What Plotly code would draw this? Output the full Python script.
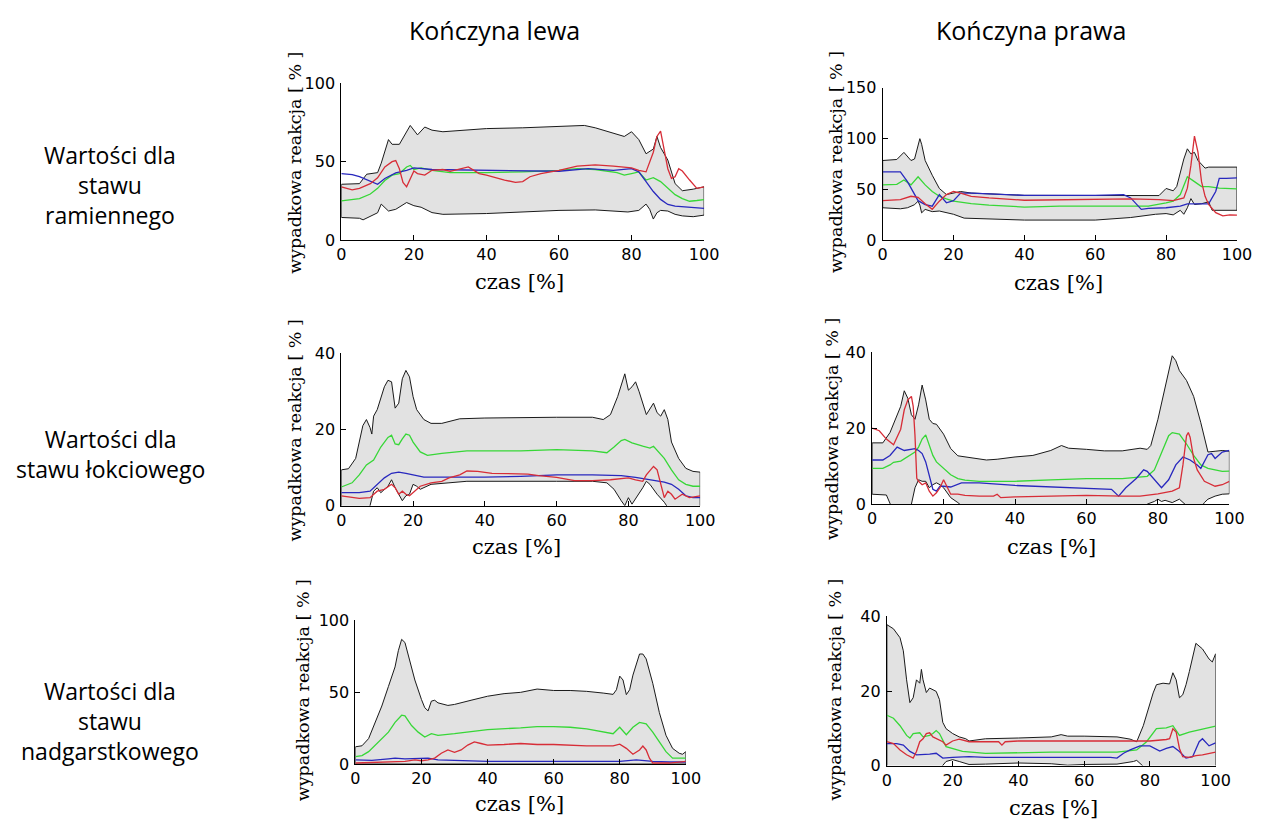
import plotly.graph_objects as go

# ---------------- DATA ----------------
col_titles = ["Kończyna lewa", "Kończyna prawa"]
row_titles = ["Wartości dla<br>stawu<br>ramiennego",
              "Wartości dla<br>stawu łokciowego",
              "Wartości dla<br>stawu<br>nadgarstkowego"]
x_ticks = [0, 20, 40, 60, 80, 100]
x_title = "czas [%]"
y_title = "wypadkowa reakcja [ % ]"

# --- shoulder, left ---
tl_up_x = [0,5,7,10,11,13,14,16,19,21,23,25,28,35,40,50,60,67,70,75,78,80,82,84,86,87,88,90,92,94,97,100]
tl_up = [35.6,36,42,43,49,64,61,61,73,67,72,70,69,70,71,71.5,72.5,73,71.5,68,66,69,64,55,58,66,59,51,36,31.5,32.5,34]
tl_lo_x = [0,5,6,8,10,11,13,15,18,20,22,25,28,40,60,70,79,82,84,85,86,87,88,90,92,94,97,100]
tl_lo = [14.5,14,13,15.5,17.5,23,18.6,19.7,24,22,21,17.6,16.5,17,19,19.3,18,19,23,19.7,13.5,17.5,19,18.6,16.5,15.5,15,16]
tl_green_x = [0,5,8,10,12,14,16,18,19,20,22,25,30,40,50,60,65,70,76,78,80,82,84,86,88,90,92,94,96,98,100]
tl_green = [25,26.5,29.4,33,38,41.4,42.4,46.6,47.6,45,46,44.5,43,43,43.5,44.5,45.5,45,43,41.4,42.4,43.5,38.3,39.8,37.3,33,29,26.5,24.8,25.3,25.9]
tl_red_x = [0,3,5,8,10,12,14,15,16,17,18,19,20,21,23,25,28,30,33,35,38,40,45,48,50,52,55,60,65,70,75,80,82,84,86,87,88,89,90,91,92,93,94,96,98,100]
tl_red = [34,32,33,36,39.7,46.6,50,50.7,45.5,36.8,34,39.3,44,42.4,41.4,44.5,45,43.8,45.5,46.6,42.4,41.4,38.3,36.8,37.3,40.4,42.4,44.5,47.2,48,47.2,46,44.5,43.5,56,66,69.4,58,45.5,39.3,40.4,45.5,44,38.3,33,34]
tl_blue_x = [0,3,5,8,10,12,15,18,20,25,40,60,68,75,80,82,84,86,88,90,92,95,98,100]
tl_blue = [42.4,41.8,40.4,37.3,35.6,39.3,42.9,44.5,46,45,44.5,43.9,45.5,44.5,45.5,43.5,37.3,31,26,22.8,21.7,21.3,20.7,20.3]

# --- shoulder, right ---
tr_up_x = [0,4,6,8,9,10,10.5,11,12,14,16,18,20,22,25,30,40,78,80,82,83,85,86,87,88,89,91,92,95,100]
tr_up = [78.5,79.5,86.5,78.5,80,93,100,94.5,78.5,64,51,45,46.5,48,46.5,45.5,44.2,44,51,48.7,53,80,90,85,86.5,78.5,71,72,72,72]
tr_lo_x = [0,5,7,9,10,10.5,11,12,14,16,20,23,28,40,60,70,77,80,82,84,85,86,87,88,90,92,93,95,100]
tr_lo = [32,31,32,35,38.5,34.6,27,30.4,28.2,28.8,25.6,21.8,20.8,19.9,19.9,22.4,25.6,26.3,25,29.5,25.6,32,41,35.2,36,37.8,29.5,29.5,29.5]
tr_green_x = [0,4,6,8,10,12,14,16,18,20,25,30,40,50,60,70,75,80,82,84,86,88,90,92,95,100]
tr_green = [54.5,55,59.3,54.5,62.5,54.5,48,43.3,40.7,38.5,36,34.6,32.7,33.6,33.6,33.6,33.6,36.9,38.5,45,62.5,57.7,52.9,52.9,51.3,50.6]
tr_red_x = [0,5,8,10,12,14,16,18,20,22,25,30,40,50,60,70,78,82,85,86,87,88,89,90,91,92,94,96,98,100]
tr_red = [39,40,43.3,42.3,36,30.5,38.5,45,48,46.5,43.3,41.7,39.4,40,40.7,40.7,40,39,41.7,51.3,73.7,102.5,86.5,57.7,43.3,35.2,27.2,24,25,24.7]
tr_blue_x = [0,5,7,8,10,12,14,16,18,20,22,25,30,40,50,60,68,70,73,75,80,84,86,88,90,92,94,95,97,100]
tr_blue = [67.3,67.3,57.7,51.3,39,35.2,33.6,45,36.9,39,46.5,46.5,45.5,44.2,44.2,44.2,45,41.7,30.4,31.4,32,33.6,35.9,35.9,35.2,35.9,48,61,61,61.5]

# --- elbow, left ---
ml_up_x = [0,2,4,6,7,8,8.5,9,10,12,13,14,15,16,17,18,19,20,21,22,23,25,28,33,40,60,70,73,75,77,79,80,81,82,83,85,86,87,88,89,90,91,92,94,96,98,100]
ml_up = [9.4,9.7,12.4,21,22.6,20.5,18.8,23.5,25.2,31.2,32.9,32.5,25.6,26.9,33.3,35.5,33.8,28.6,25.2,23.9,22.6,21.6,21.6,22.8,23,23.2,23.2,22.6,23.9,28.6,34.6,30.3,31.2,32.5,29.9,23.9,25.6,26.9,24.4,23.5,25.2,22.6,16.7,12.4,9.8,9,8.8]
ml_lo_x = [0,7,8,9,10,11,13,14,15,17,18,19,20,21,22,25,30,35,40,60,70,74,76,78,79,80,81,82,84,85,86,88,90,91,92,100]
ml_lo = [-3,-2,0,3.8,4.7,3.4,5.1,6.8,4.7,1.3,2.6,3,5.6,5.1,4.3,5.6,6,6.4,6.4,6.4,6.4,6,4.3,1.3,0,2.1,0.4,1.7,4.7,6.4,5.6,3,0.9,-0.5,-3,-3]
ml_green_x = [0,3,5,7,9,11,13,14,15,16,17,18,19,20,22,24,28,35,50,60,70,74,76,78,79,81,84,86,87,88,90,92,94,96,98,100]
ml_green = [4.9,6,8.1,10.7,12,15.4,17.9,18.5,16.2,16,17.5,18.8,18.5,16.7,14.1,13.2,13.7,14.4,14.4,14.7,14.4,13.9,15.4,17.1,17.4,16.5,15.6,15.1,15.6,14.5,12.4,9.4,6.8,5.6,5.1,5.1]
ml_red_x = [0,3,5,8,10,12,14,15,16,17,18,19,20,22,25,28,30,33,35,38,42,48,52,55,60,65,70,75,80,82,84,85,87,88,89,90,91,92,93,95,97,100]
ml_red = [2.6,2.1,1.9,2.1,3.8,4.3,5.6,4.7,3,3.8,3,2.6,3.4,5.1,6,6.4,7.3,8.1,9.1,9,8.5,8.4,8.3,7.9,7.4,6.6,6.6,6.8,7.3,6.8,6.4,8.1,10.3,9.4,5.6,2.1,3.8,3,1.7,3,2.1,2.6]
ml_blue_x = [0,5,8,10,12,14,16,18,20,23,30,40,50,60,70,78,82,86,88,90,92,94,96,98,100]
ml_blue = [3.4,3.4,3.8,5.6,7.3,8.5,8.8,8.5,8.1,7.5,7.5,7.5,7.7,8.1,8.1,7.9,7.4,6.8,6.4,6.2,5.6,4.3,2.6,2.1,2.1]

# --- elbow, right ---
mr_up_x = [0,3,5,6,8,9,10,11,12,13,14,15,16,17,18,20,22,24,26,30,32,35,40,45,50,53,55,60,65,70,75,77,78,80,82,84,85,86,88,90,92,94,96,98,100]
mr_up = [16.1,16.1,18.8,21.2,25.7,29.8,27.8,23.5,22.3,26.1,31.3,27.4,22.3,21.2,21,18.4,14.6,12.7,12.4,11.8,11.6,11.8,12.4,12.8,14.1,15.4,14.7,14.4,14,14,14.7,14.4,15.4,22.3,30.8,39,37.7,35.1,32.5,28.3,21.4,13.7,13.9,14.1,13.9]
mr_lo_x = [0,4,5,6,10,11,12,13,14,15,16,17,18,19,20,22,24,25,26,76,77,79,80,81,82,84,86,87,88,90,92,93,94,96,98,100]
mr_lo = [2.6,2.4,0,-2,-2,0,4.3,6.4,6,6,4.3,5.1,5.6,5.1,4.3,1.7,0.4,-0.4,-2,-2,0,0.7,1.3,0.7,1,0.4,1.3,0.4,-0.4,-1,-1,0.4,1.3,2.1,2.6,2.7]
mr_green_x = [0,3,5,6,8,10,12,13,14,15,16,17,18,20,22,24,26,30,40,50,60,70,75,77,79,81,83,84,86,88,90,92,94,96,98,100]
mr_green = [9.4,9.4,10.3,11,11.3,12.4,13.7,15,17.1,18.2,15.4,12.8,11.1,9.4,7.7,6.7,6.3,6,6,6.4,6.7,6.7,7,7.3,9,13.7,18,18.8,18.4,15.8,12.8,10.3,9.4,9,8.6,8.7]
mr_red_x = [0,2,4,6,8,9,10,11,11.5,12,12.5,13,14,15,16,17,18,19,20,21,22,24,26,30,34,35,36,40,50,60,70,75,80,84,86,87,88,88.5,89,90,91,93,96,98,100]
mr_red = [20,19.3,17.1,15.6,19.7,24.8,27.4,28.3,25.7,18,6.8,6,5.1,5.6,3.4,2.1,3,4.3,6.4,4.3,2.6,2.6,2.3,2.1,2.1,2.6,1.7,1.9,2.1,2.3,2.1,2.1,2.7,3.4,4.3,10.3,18,18.8,17.6,12,9,6,4.7,5.1,6]
mr_blue_x = [0,3,5,7,9,11,12,13,14,15,16,17,18,19,20,22,25,30,40,50,60,67,69,71,74,76,77,79,81,83,85,87,89,91,92,94,95,96,98,100]
mr_blue = [11.6,11.6,12.8,15,14.1,14.4,14.6,14.1,13.3,11.1,7.7,3.9,3.4,4.7,4.7,4.5,5.6,5.6,4.9,4.5,4,3.9,2.1,4.3,6.8,9,8.6,6.4,4.3,6.4,10.3,12.4,11.6,10.3,9.4,13,13.3,12,13.7,14.1]

# --- wrist, left ---
bl_up_x = [0,2,4,6,8,10,12,13,14,15,16,18,20,21,22,23,24,25,28,30,35,40,45,50,55,60,65,70,75,78,79,80,81,82,83,84,86,87,88,90,92,94,96,98,99,100]
bl_up = [12,12.7,17.7,29,40.4,54,67.6,78.9,86.8,84.6,75.5,58.5,44.9,39.2,37,43.8,44.4,42.6,40.8,41.5,44.4,47.2,49,49.9,52.2,51.2,51.2,50.6,49.4,48.5,51.7,61.2,58.5,48.3,51.7,61.9,76.6,76.6,73.2,56.2,35.8,20,10.9,7.5,6.8,8.6]
bl_lo_x = [0,100]
bl_lo = [0,0]
bl_green_x = [0,2,4,6,8,10,12,14,15,17,19,21,23,25,30,40,50,55,60,65,70,75,78,80,82,84,86,88,90,92,94,96,98,100]
bl_green = [5.2,5.9,8.6,13.2,17.7,22.2,29,34,33.6,26.8,22.2,18.8,21.1,20,21.1,24,25.2,26.1,26.1,25.6,24.5,22.2,21.1,25.6,20.4,25.6,29,27.9,22.2,15.4,8.6,4.1,4.1,4.1]
bl_red_x = [0,10,15,18,20,22,24,26,28,30,32,34,36,38,40,45,50,55,60,70,78,80,82,84,86,87,88,89,90,95,100]
bl_red = [0.7,1.1,1.8,2.9,2.3,2.9,4.1,7.5,9.8,8.2,9.8,13.2,15.4,14.3,13.2,13.6,14.3,13.6,13.6,12.7,12.7,13.8,10.9,6.8,9.8,12.5,9.8,4.1,0.7,0.7,1.8]
bl_blue_x = [0,5,10,12,15,20,22,25,30,40,60,80,85,90,95,100]
bl_blue = [2.9,2.5,3.6,4.1,3.6,3.6,4.1,2.9,2.5,1.8,1.8,1.8,2.9,1.8,1.4,1.4]

# --- wrist, right ---
br_up_x = [0,2,4,5,6,7,8,9,10,10.5,11,12,13,14,15,16,17,18,20,22,24,25,30,40,50,53,55,60,70,74,76,78,80,81,82,84,86,87,88,89,90,91,92,93,94,96,98,99,100]
br_up = [37.8,36.7,34.3,30.8,23,16.9,18.2,23,22.1,25.8,23,19.6,20.8,20.3,19.9,17.7,11.6,9.9,8.6,7.7,7.2,6.6,7.2,7.4,7.7,8.3,7.9,7.9,7.7,7.1,6.4,10.7,16.9,19.5,21.7,22.1,21.9,24.9,23,18.2,19,21.7,25.2,28.6,32.8,31.3,28.6,27.8,30]
br_lo_x = [0,16,17,18,20,22,25,30,40,50,55,60,70,75,76,77,78,79,100]
br_lo = [-1,-1,0,1.1,1.6,1.1,0.3,0.4,0.7,0.5,0.1,0.3,0.4,1.1,1.4,0.7,-0.2,-1,-1]
br_green_x = [0,2,4,6,7,8,10,11,13,14,15,16,18,20,23,30,40,50,60,70,76,79,82,85,87,89,92,96,100]
br_green = [13.5,12.7,10.7,8.1,7.4,8.6,8.8,7.7,8.1,8.6,9.4,8.6,5.1,4.6,3.8,3.3,3.5,3.6,3.6,3.6,4.2,6.4,9.9,10.1,10.7,8.1,9,9.9,10.6]
br_red_x = [0,2,4,6,8,9,10,11,12,13,14,16,17,18,20,22,25,34,35,36,40,50,60,70,80,85,86,87,88,89,90,92,94,96,98,100]
br_red = [6.4,5.9,4.2,2.9,2,3.8,6.4,7.2,8.6,8.8,7.7,6.8,6.4,5.5,6.6,7.1,6.4,6.4,5.5,6.4,6.6,6.6,6.6,6.6,6.6,7,7.2,9.9,9,4.6,2.4,2.2,2.7,2.9,3.3,3.6]
br_blue_x = [0,3,5,7,9,11,13,15,17,20,25,30,40,50,60,68,70,72,74,77,80,82,83,85,87,89,91,93,95,96,98,100]
br_blue = [5.9,5.9,5.5,3.8,2.9,3.1,3.1,3.3,2,2.2,2.4,2.2,2.2,2.4,2.4,2.2,2,3.3,4.2,5.3,5.3,4.5,3.9,4.6,5.1,3.8,2,2.4,6.4,7.2,5.3,6.1]

y_ranges = {"tl": [0, 100], "tr": [0, 150], "ml": [0, 40], "mr": [0, 40], "bl": [0, 100], "br": [0, 40]}
y_ticks = {"tl": [0, 50, 100], "tr": [0, 50, 100, 150], "ml": [0, 20, 40],
           "mr": [0, 20, 40], "bl": [0, 50, 100], "br": [0, 20, 40]}

# ---------------- LAYOUT / STYLE ----------------
W, H = 1269, 831
GREEN = "rgb(55,215,55)"
RED = "rgb(215,45,55)"
BLUE = "rgb(40,40,190)"
BAND = "rgb(226,226,226)"
SERIF = "DejaVu Serif"
SANS = "DejaVu Sans"
LABEL = "Open Sans"

panels = [
    dict(k="tl", up=(tl_up_x, tl_up), lo=(tl_lo_x, tl_lo), g=(tl_green_x, tl_green), r=(tl_red_x, tl_red), b=(tl_blue_x, tl_blue),
         px=(341.7, 710.3), py=(75.7, 236.7), yt=(295, 157), xt=(523, 279)),
    dict(k="tr", up=(tr_up_x, tr_up), lo=(tr_lo_x, tr_lo), g=(tr_green_x, tr_green), r=(tr_red_x, tr_red), b=(tr_blue_x, tr_blue),
         px=(891.7, 1251.7), py=(80.7, 236.7), yt=(845, 157), xt=(1070, 280)),
    dict(k="ml", up=(ml_up_x, ml_up), lo=(ml_lo_x, ml_lo), g=(ml_green_x, ml_green), r=(ml_red_x, ml_red), b=(ml_blue_x, ml_blue),
         px=(341.7, 706.3), py=(352.3, 508.3), yt=(295, 431), xt=(520, 551)),
    dict(k="mr", up=(mr_up_x, mr_up), lo=(mr_lo_x, mr_lo), g=(mr_green_x, mr_green), r=(mr_red_x, mr_red), b=(mr_blue_x, mr_blue),
         px=(881, 1244), py=(351, 506.7), yt=(840, 430), xt=(1063, 551)),
    dict(k="bl", up=(bl_up_x, bl_up), lo=(bl_lo_x, bl_lo), g=(bl_green_x, bl_green), r=(bl_red_x, bl_red), b=(bl_blue_x, bl_blue),
         px=(356, 691.7), py=(625.7, 772.7), yt=(303, 697), xt=(523, 814)),
    dict(k="br", up=(br_up_x, br_up), lo=(br_lo_x, br_lo), g=(br_green_x, br_green), r=(br_red_x, br_red), b=(br_blue_x, br_blue),
         px=(896, 1230), py=(621.7, 774.3), yt=(843, 697), xt=(1065, 818)),
]

fig = go.Figure()
annotations = []
layout_axes = {}

for i, p in enumerate(panels):
    n = i + 1
    xa = "x" if n == 1 else f"x{n}"
    ya = "y" if n == 1 else f"y{n}"
    ux, uy = p["up"]
    lx, ly = p["lo"]
    bx = list(ux) + list(reversed(lx)) + [ux[0]]
    by = list(uy) + list(reversed(ly)) + [uy[0]]
    fig.add_trace(go.Scatter(x=bx, y=by, mode="lines", fill="toself", fillcolor=BAND,
                             line=dict(color="#1a1a1a", width=1), xaxis=xa, yaxis=ya, hoverinfo="skip"))
    for key, c in (("g", GREEN), ("b", BLUE), ("r", RED)):
        sx, sy = p[key]
        fig.add_trace(go.Scatter(x=sx, y=sy, mode="lines", line=dict(color=c, width=1.3),
                                 xaxis=xa, yaxis=ya))
    x0, x1 = p["px"]
    y0, y1 = p["py"]
    common = dict(showline=True, linecolor="black", linewidth=1, ticks="inside", ticklen=5,
                  tickcolor="black", showgrid=False, zeroline=False, mirror=False,
                  tickfont=dict(family=SANS, size=16, color="black"))
    layout_axes["xaxis" if n == 1 else f"xaxis{n}"] = dict(
        domain=[x0 / W, x1 / W], range=[0, 100], tickvals=x_ticks, anchor=ya,
        ticklabelstandoff=0, **common)
    layout_axes["yaxis" if n == 1 else f"yaxis{n}"] = dict(
        domain=[1 - y1 / H, 1 - y0 / H], range=y_ranges[p["k"]], tickvals=y_ticks[p["k"]],
        anchor=xa, ticklabelstandoff=2, **common)
    tx, ty = p["yt"]
    annotations.append(dict(text=y_title, x=tx / W, y=1 - ty / H, xref="paper", yref="paper",
                            showarrow=False, textangle=-90, xanchor="center", yanchor="middle",
                            font=dict(family=SERIF, size=17.5, color="black")))
    tx, ty = p["xt"]
    annotations.append(dict(text=x_title, x=tx / W, y=1 - ty / H, xref="paper", yref="paper",
                            showarrow=False, xanchor="center", yanchor="middle",
                            font=dict(family=SERIF, size=21, color="black")))

for txt, cx in zip(col_titles, (497, 1042)):
    annotations.append(dict(text=txt, x=cx / W, y=1 - 22 / H, xref="paper", yref="paper",
                            showarrow=False, xanchor="center", yanchor="middle",
                            font=dict(family=LABEL, size=25, color="black")))
for txt, cy in zip(row_titles, (180, 455, 729)):
    annotations.append(dict(text=txt, x=107 / W, y=1 - cy / H, xref="paper", yref="paper",
                            showarrow=False, xanchor="center", yanchor="middle", align="center",
                            font=dict(family=LABEL, size=23, color="black")))

fig.update_layout(width=W, height=H, margin=dict(l=0, r=0, t=0, b=0),
                  paper_bgcolor="white", plot_bgcolor="white", showlegend=False,
                  annotations=annotations, **layout_axes)

fig.write_html("out.html")
